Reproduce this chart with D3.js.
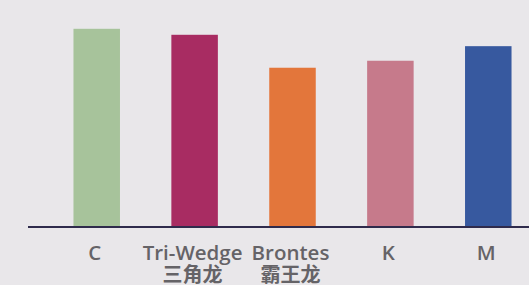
<!DOCTYPE html>
<html>
<head>
<meta charset="utf-8">
<script src="https://cdn.jsdelivr.net/npm/d3@7"></script>
<style>
	html, body { margin: 0; padding: 0; background: #e9e7ea; overflow: hidden; }
	svg { display: block; }
</style>
</head>
<body>
<div id="chart"></div>
<script>
const categories = ["C", "Tri-Wedge", "Brontes", "K", "M"];
const subLabels = ["", "三角龙", "霸王龙", "", ""];
const values = [99, 96, 79.5, 83, 90.3];
const colors = ["#a7c39b", "#a82c62", "#e3763b", "#c67a8b", "#37599f"];

const width = 529;
const height = 285;
const baseY = 226.5;

const svg = d3.select("#chart")
	.append("svg")
	.attr("width", width)
	.attr("height", height);

svg.append("rect")
	.attr("width", width)
	.attr("height", height)
	.attr("fill", "#e9e7ea");

const x = d3.scaleBand()
	.domain(categories)
	.range([49, 536])
	.paddingInner(0.525)
	.paddingOuter(0.25);

const y = d3.scaleLinear()
	.domain([0, 100])
	.range([baseY, 26.8]);

svg.selectAll("rect.bar")
	.data(categories)
	.enter()
	.append("rect")
	.attr("class", "bar")
	.attr("x", (d) => x(d))
	.attr("width", x.bandwidth())
	.attr("y", (d, i) => y(values[i]))
	.attr("height", (d, i) => baseY - y(values[i]))
	.attr("fill", (d, i) => colors[i]);

// axis line
svg.append("line")
	.attr("x1", 28)
	.attr("x2", width)
	.attr("y1", baseY + 0.5)
	.attr("y2", baseY + 0.5)
	.attr("stroke", "#2f2b4c")
	.attr("stroke-width", 2);

const labels = svg.selectAll("g.label")
	.data(categories)
	.enter()
	.append("g")
	.attr("class", "label")
	.attr("transform", (d) => `translate(${x(d) + x.bandwidth() / 2 - 2},0)`);

labels.append("text")
	.attr("y", 260)
	.attr("text-anchor", "middle")
	.style("font-family", "'Open Sans', 'Noto Sans', sans-serif")
	.style("font-weight", 600)
	.style("font-size", "20.5px")
	.style("fill", "#656367")
	.text((d) => d);

labels.append("text")
	.attr("y", 282)
	.attr("text-anchor", "middle")
	.style("font-family", "'Noto Sans CJK SC', sans-serif")
	.style("font-weight", 600)
	.style("font-size", "20px")
	.style("fill", "#656367")
	.text((d, i) => subLabels[i]);
</script>
</body>
</html>
